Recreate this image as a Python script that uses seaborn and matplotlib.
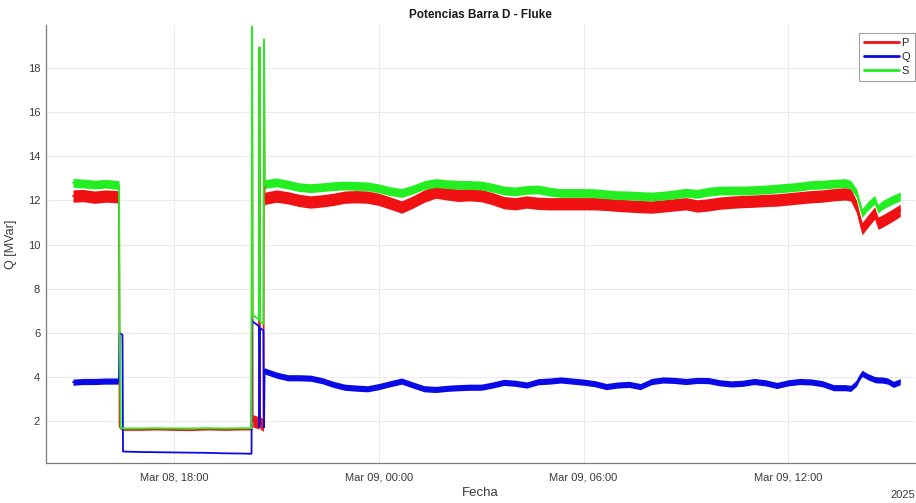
import matplotlib
matplotlib.use("Agg")
import matplotlib.pyplot as plt
import matplotlib.dates as mdates
from matplotlib.lines import Line2D
import numpy as np
import pandas as pd
import seaborn as sns

# ---- measured data (Barra D, Fluke logger) ----
TIME = [
    # Mar 08, feeder energized
    "2025-03-08 15:02", "2025-03-08 15:20", "2025-03-08 15:40", "2025-03-08 16:00",
    "2025-03-08 16:20", "2025-03-08 16:23",
    # trip
    "2025-03-08 16:24", "2025-03-08 16:26", "2025-03-08 16:29", "2025-03-08 16:30",
    # reduced load
    "2025-03-08 17:00", "2025-03-08 17:30", "2025-03-08 18:00", "2025-03-08 18:30",
    "2025-03-08 19:00", "2025-03-08 19:30", "2025-03-08 20:00", "2025-03-08 20:16",
    # reconnection transients
    "2025-03-08 20:17", "2025-03-08 20:18", "2025-03-08 20:29", "2025-03-08 20:30",
    "2025-03-08 20:31", "2025-03-08 20:37", "2025-03-08 20:38", "2025-03-08 20:39",
    "2025-03-08 20:40",
    # Mar 08 night
    "2025-03-08 21:00", "2025-03-08 21:20", "2025-03-08 21:40", "2025-03-08 22:00",
    "2025-03-08 22:20", "2025-03-08 22:40", "2025-03-08 23:00", "2025-03-08 23:20",
    "2025-03-08 23:40",
    # Mar 09
    "2025-03-09 00:00", "2025-03-09 00:20", "2025-03-09 00:40",
    "2025-03-09 01:00", "2025-03-09 01:20", "2025-03-09 01:40",
    "2025-03-09 02:00", "2025-03-09 02:20", "2025-03-09 02:40",
    "2025-03-09 03:00", "2025-03-09 03:20", "2025-03-09 03:40",
    "2025-03-09 04:00", "2025-03-09 04:20", "2025-03-09 04:40",
    "2025-03-09 05:00", "2025-03-09 05:20", "2025-03-09 05:40",
    "2025-03-09 06:00", "2025-03-09 06:20", "2025-03-09 06:40",
    "2025-03-09 07:00", "2025-03-09 07:20", "2025-03-09 07:40",
    "2025-03-09 08:00", "2025-03-09 08:20", "2025-03-09 08:40",
    "2025-03-09 09:00", "2025-03-09 09:20", "2025-03-09 09:40",
    "2025-03-09 10:00", "2025-03-09 10:20", "2025-03-09 10:40",
    "2025-03-09 11:00", "2025-03-09 11:20", "2025-03-09 11:40",
    "2025-03-09 12:00", "2025-03-09 12:20", "2025-03-09 12:40",
    "2025-03-09 13:00", "2025-03-09 13:20", "2025-03-09 13:40",
    # afternoon disturbance
    "2025-03-09 13:50", "2025-03-09 14:00", "2025-03-09 14:05", "2025-03-09 14:10",
    "2025-03-09 14:20", "2025-03-09 14:32", "2025-03-09 14:38", "2025-03-09 14:45",
    "2025-03-09 14:55", "2025-03-09 15:05", "2025-03-09 15:17",
]

P = [
    12.20, 12.22, 12.15, 12.20, 12.17, 12.12,
    1.75, 1.65, 1.60, 1.58,
    1.58, 1.60, 1.58, 1.57, 1.60, 1.58, 1.60, 1.60,
    19.40, 2.00, 1.90, 18.95, 1.90, 1.80, 19.30, 12.00, 12.10,
    12.20, 12.12, 12.00, 11.93, 11.98, 12.05, 12.15, 12.17, 12.15,
    12.05, 11.88, 11.70,
    11.93, 12.20, 12.38,
    12.30, 12.23, 12.26,
    12.22, 12.08, 11.90,
    11.85, 11.93, 11.87,
    11.85, 11.85, 11.85,
    11.85, 11.85, 11.82,
    11.78, 11.75, 11.72,
    11.70, 11.75, 11.80,
    11.85, 11.75, 11.80,
    11.88, 11.92, 11.95,
    11.97, 12.00, 12.02,
    12.07, 12.12, 12.17,
    12.20, 12.26, 12.30,
    12.25, 11.73, 11.20, 10.72, 11.05, 11.43, 10.97, 11.05, 11.20, 11.35, 11.55,
]

Q = [
    3.75, 3.78, 3.78, 3.80, 3.80, 3.80,
    6.00, 5.95, 5.90, 0.60,
    0.58, 0.57, 0.56, 0.55, 0.54, 0.52, 0.51, 0.50,
    6.60, 6.50, 6.30, 1.70, 6.20, 6.10, 1.70, 4.30, 4.25,
    4.07, 3.95, 3.95, 3.93, 3.82, 3.65, 3.52, 3.48, 3.45,
    3.55, 3.68, 3.80,
    3.62, 3.45, 3.42,
    3.47, 3.50, 3.52,
    3.52, 3.62, 3.74,
    3.70, 3.62, 3.77,
    3.80, 3.85, 3.80,
    3.75, 3.68, 3.55,
    3.62, 3.65, 3.55,
    3.78, 3.85, 3.83,
    3.78, 3.83, 3.82,
    3.72, 3.67, 3.70,
    3.78, 3.72, 3.60,
    3.72, 3.78, 3.76,
    3.68, 3.50, 3.50,
    3.47, 3.70, 3.95, 4.15, 4.00, 3.87, 3.85, 3.85, 3.80, 3.65, 3.77,
]

S = [
    12.80, 12.77, 12.72, 12.76, 12.70, 12.70,
    6.40, 1.68, 1.66, 1.65,
    1.65, 1.66, 1.65, 1.65, 1.66, 1.65, 1.66, 1.66,
    19.90, 6.80, 6.60, 18.95, 6.50, 6.40, 19.30, 12.70, 12.75,
    12.82, 12.72, 12.60, 12.56, 12.60, 12.65, 12.68, 12.66, 12.64,
    12.55, 12.42, 12.34,
    12.50, 12.70, 12.79,
    12.74, 12.71, 12.70,
    12.68, 12.58, 12.45,
    12.41, 12.48, 12.50,
    12.40, 12.34, 12.34,
    12.34, 12.33, 12.28,
    12.24, 12.23, 12.20,
    12.18, 12.22, 12.28,
    12.35, 12.30, 12.40,
    12.45, 12.45, 12.45,
    12.47, 12.50, 12.54,
    12.58, 12.63, 12.70,
    12.72, 12.76, 12.79,
    12.71, 12.34, 11.90, 11.43, 11.75, 12.03, 11.62, 11.78, 11.92, 12.05, 12.18,
]

# half-width of the fast fluctuation band seen while the bar is loaded
NOISE = {"P": 0.28, "Q": 0.14, "S": 0.20}
NOISY = {
    "P": [("2025-03-08 15:02", "2025-03-08 16:23"),
          ("2025-03-08 20:18", "2025-03-08 20:29"),
          ("2025-03-08 20:31", "2025-03-08 20:37"),
          ("2025-03-08 20:39", "2025-03-09 15:17")],
    "Q": [("2025-03-08 15:02", "2025-03-08 16:23"),
          ("2025-03-08 20:39", "2025-03-09 15:17")],
    "S": [("2025-03-08 15:02", "2025-03-08 16:23"),
          ("2025-03-08 20:39", "2025-03-09 15:17")],
}

SERIES = {"P": P, "Q": Q, "S": S}
COLORS = {"P": "#f01212", "Q": "#0a0ae6", "S": "#22ee22"}

# ---- long table: lower/upper edge of the band at each timestamp ----
times = pd.to_datetime(TIME)
rows = []
for name, vals in SERIES.items():
    windows = [(pd.Timestamp(a), pd.Timestamp(b)) for a, b in NOISY[name]]
    for t, v in zip(times, vals):
        h = NOISE[name] if any(a <= t <= b for a, b in windows) else 0.0
        rows.append((t, name, v - h))
        rows.append((t, name, v + h))
df = pd.DataFrame(rows, columns=["Fecha", "serie", "valor"])

# ---- figure ----
sns.set_style("white")
plt.rcParams["font.family"] = ["Liberation Sans", "DejaVu Sans"]

fig = plt.figure(figsize=(9.16, 5.03), dpi=100)
ax = fig.add_axes([0.0499, 0.0795, 0.9490, 0.8710])

sns.lineplot(
    data=df, x="Fecha", y="valor", hue="serie", hue_order=["P", "Q", "S"],
    palette=COLORS, estimator="mean", errorbar=("pi", 100),
    err_kws={"alpha": 1.0, "linewidth": 0}, linewidth=1.3, legend=False, ax=ax,
)

ax.set_xlim(pd.Timestamp("2025-03-08 14:14"), pd.Timestamp("2025-03-09 15:43"))
ax.set_ylim(0.08, 19.97)
ax.set_yticks(np.arange(2, 20, 2))
ax.xaxis.set_major_locator(mdates.HourLocator(byhour=[0, 6, 12, 18]))
ax.xaxis.set_major_formatter(mdates.DateFormatter("%b %d, %H:%M"))

ax.grid(True, color="#ebebeb", linewidth=0.7)
ax.set_axisbelow(True)
for side in ("top", "right"):
    ax.spines[side].set_visible(False)
for side in ("left", "bottom"):
    ax.spines[side].set_color("#7a7a7a")
    ax.spines[side].set_linewidth(0.9)
ax.tick_params(axis="both", direction="in", length=5, width=0.8, color="#7a7a7a",
               labelsize=8, labelcolor="#3a3a3a")
ax.tick_params(axis="x", pad=7)
ax.tick_params(axis="y", pad=4)

ax.set_title("Potencias Barra D - Fluke", fontsize=8.5, fontweight="bold",
             color="#1a1a1a", pad=5)
ax.set_xlabel("Fecha", fontsize=9.5, color="#3a3a3a", labelpad=3)
ax.set_ylabel("Q [MVar]", fontsize=9, color="#3a3a3a", labelpad=8)
fig.text(0.999, 1 - 495 / 503, "2025", ha="right", va="center",
         fontsize=8, color="#3a3a3a")

handles = [Line2D([], [], color=COLORS[k], linewidth=2.0) for k in ("P", "Q", "S")]
leg = ax.legend(handles, ["P", "Q", "S"], loc="upper right",
                bbox_to_anchor=(1.0, 0.982), borderaxespad=0, fontsize=8,
                handlelength=3.1, handletextpad=0.25, labelspacing=0.38,
                borderpad=0.45, frameon=True, fancybox=False)
leg.get_frame().set_edgecolor("#8a8a8a")
leg.get_frame().set_linewidth(0.8)

fig.savefig("out.png", dpi=100)
